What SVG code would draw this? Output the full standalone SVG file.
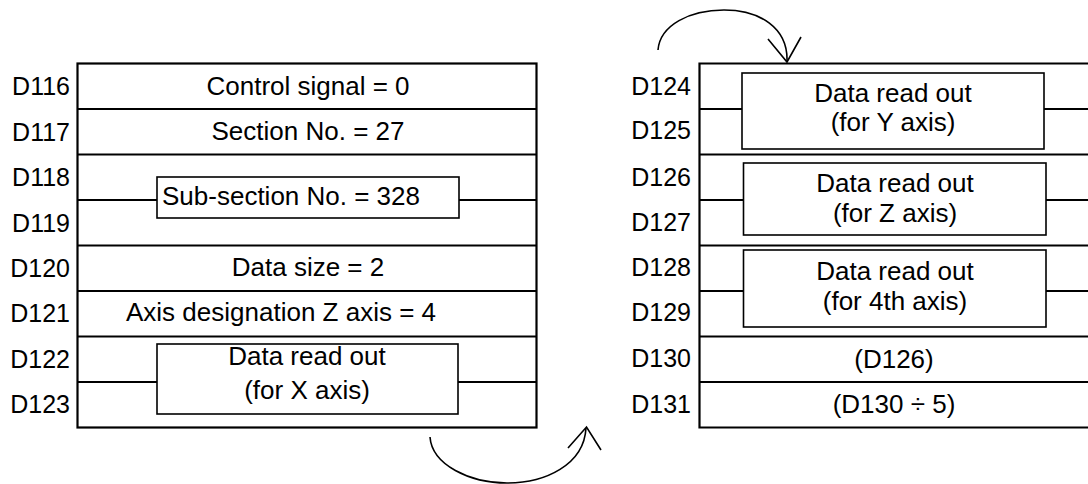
<svg xmlns="http://www.w3.org/2000/svg" width="1088" height="484" viewBox="0 0 1088 484">
<style>
.t{font-family:"Liberation Sans",Arial,sans-serif;font-size:26px;fill:#000}
.l{font-size:25px}
.m{text-anchor:middle}
.e{text-anchor:end}
.tbl{stroke:#000;stroke-width:2.2;fill:none}
.box{stroke:#000;stroke-width:1.6;fill:#fff}
.arr{stroke:#000;stroke-width:1.6;fill:none}
</style>
<rect x="0" y="0" width="1088" height="484" fill="#fff"/>
<g id="left-table">
<rect x="77.5" y="63.5" width="459" height="364" fill="#fff" class="tbl"/>
<path class="tbl" d="M77.5,109H536.5M77.5,154.5H536.5M77.5,200H157M458,200H536.5M77.5,245.5H536.5M77.5,291H536.5M77.5,336.5H536.5M77.5,382H157M458,382H536.5"/>
</g>
<g id="left-labels">
<text class="t l e" x="70" y="95">D116</text>
<text class="t l e" x="70" y="141">D117</text>
<text class="t l e" x="70" y="186">D118</text>
<text class="t l e" x="70" y="232">D119</text>
<text class="t l e" x="70" y="277">D120</text>
<text class="t l e" x="70" y="322">D121</text>
<text class="t l e" x="70" y="368">D122</text>
<text class="t l e" x="70" y="413">D123</text>
</g>
<g id="control-signal"><text class="t m" x="308" y="95">Control signal = 0</text></g>
<g id="section-no"><text class="t m" x="308" y="140">Section No. = 27</text></g>
<g id="sub-section-no">
<rect class="box" x="157" y="177" width="302" height="41"/>
<text class="t" x="162" y="205">Sub-section No. = 328</text>
</g>
<g id="data-size"><text class="t m" x="308" y="276">Data size = 2</text></g>
<g id="axis-designation"><text class="t m" x="281" y="321">Axis designation Z axis = 4</text></g>
<g id="data-x">
<rect class="box" x="157" y="344" width="301" height="70"/>
<text class="t m" x="307" y="365">Data read out</text>
<text class="t m" x="307" y="399">(for X axis)</text>
</g>
<g id="right-table">
<path class="tbl" d="M699.5,63.5H1088M699.5,154.5H1088M699.5,245.5H1088M699.5,336.5H1088M699.5,382H1088M699.5,427.5H1088M699.5,62.5V428.5M699.5,109H742M1044,109H1088M699.5,200H743M1046,200H1088M699.5,291H743M1046,291H1088"/>
</g>
<g id="right-labels">
<text class="t l e" x="691" y="95">D124</text>
<text class="t l e" x="691" y="139">D125</text>
<text class="t l e" x="691" y="186">D126</text>
<text class="t l e" x="691" y="231">D127</text>
<text class="t l e" x="691" y="276">D128</text>
<text class="t l e" x="691" y="321">D129</text>
<text class="t l e" x="691" y="367">D130</text>
<text class="t l e" x="691" y="413">D131</text>
</g>
<g id="data-y">
<rect class="box" x="742" y="73" width="302" height="76"/>
<text class="t m" x="893" y="102">Data read out</text>
<text class="t m" x="893" y="131">(for Y axis)</text>
</g>
<g id="data-z">
<rect class="box" x="743.5" y="163" width="302.5" height="72"/>
<text class="t m" x="895" y="192">Data read out</text>
<text class="t m" x="895" y="222">(for Z axis)</text>
</g>
<g id="data-4th">
<rect class="box" x="743.5" y="250" width="302.5" height="77"/>
<text class="t m" x="895" y="280">Data read out</text>
<text class="t m" x="895" y="310">(for 4th axis)</text>
</g>
<g id="d130"><text class="t m" x="894" y="368">(D126)</text></g>
<g id="d131"><text class="t m" x="894" y="413">(D130 ÷ 5)</text></g>
<g id="connectors">
<path class="arr" d="M658,50 C660,25 690,10 724,10 C760,10 788,28 787,61"/>
<path class="arr" d="M768,39 L787,62 L801,37"/>
<path class="arr" d="M430,437 C432,465 470,483 507,483 C545,483 584,465 586,428"/>
<path class="arr" d="M568,448 L586.5,427 L601,450"/>
</g>
</svg>
